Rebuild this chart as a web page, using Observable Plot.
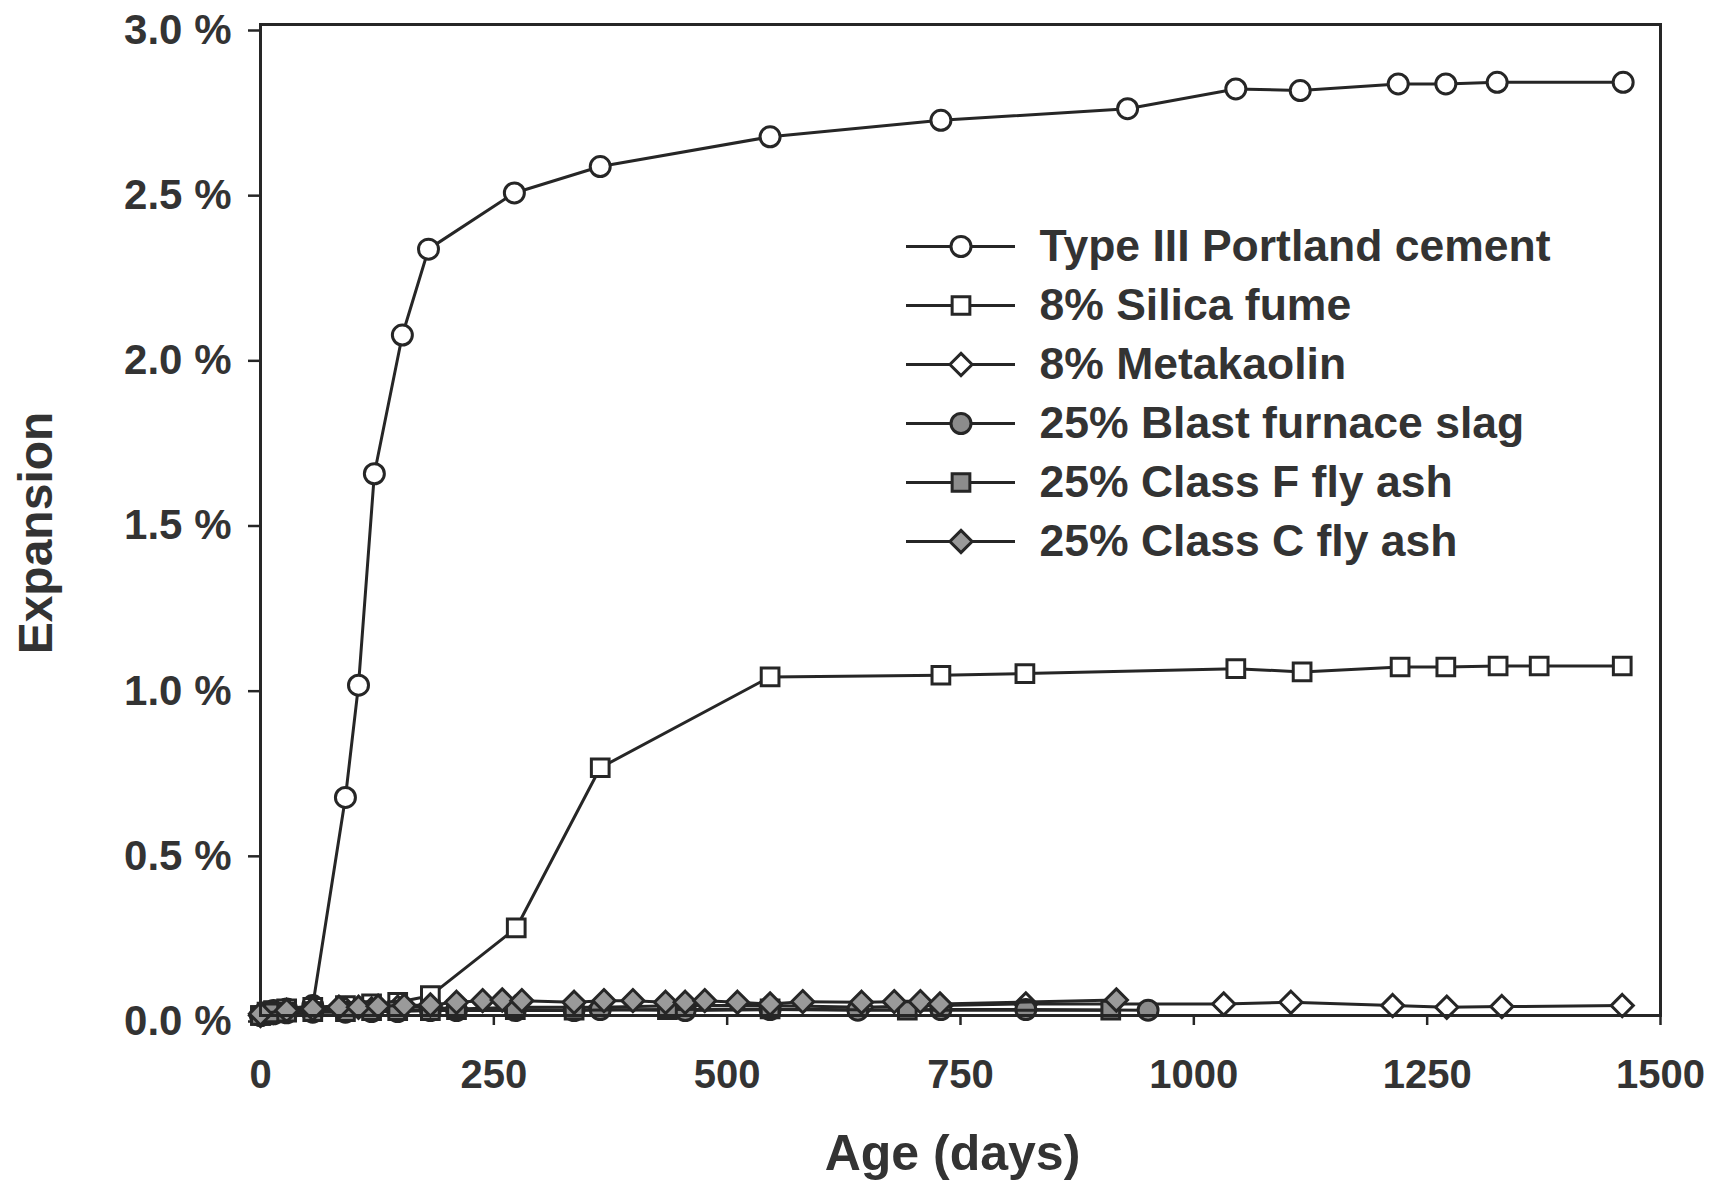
<!DOCTYPE html>
<html>
<head>
<meta charset="utf-8">
<script src="https://cdn.jsdelivr.net/npm/d3@7"></script>
<script src="https://cdn.jsdelivr.net/npm/@observablehq/plot@0.6"></script>
<style>
  html, body { margin: 0; padding: 0; background: #fff; }
  #chart { position: relative; width: 1712px; height: 1181px; }
  #chart > svg, #chart > figure { position: absolute; margin: 0; }
</style>
</head>
<body>
<div id="chart"></div>
<script>
// Expansion (%) of mortar bars versus age (days) for each binder
const seriesNames = [
  "Type III Portland cement",
  "8% Silica fume",
  "8% Metakaolin",
  "25% Blast furnace slag",
  "25% Class F fly ash",
  "25% Class C fly ash"
];

const typeIIIDays = [0, 7, 14, 28, 56, 91, 105, 122, 152, 180, 272, 364, 546, 729, 929, 1045, 1114, 1219, 1270, 1325, 1460];
const typeIIIExp  = [0.0, 0.01, 0.015, 0.02, 0.03, 0.66, 1.0, 1.64, 2.06, 2.32, 2.49, 2.57, 2.66, 2.71, 2.745, 2.805, 2.80, 2.82, 2.82, 2.825, 2.825];

const silicaDays = [0, 7, 14, 28, 56, 91, 119, 147, 182, 274, 364, 546, 729, 819, 1045, 1116, 1221, 1270, 1326, 1370, 1459];
const silicaExp  = [0.0, 0.01, 0.015, 0.02, 0.025, 0.03, 0.035, 0.04, 0.06, 0.265, 0.75, 1.025, 1.03, 1.035, 1.05, 1.04, 1.055, 1.055, 1.058, 1.058, 1.058];

const metakaolinDays = [0, 14, 28, 56, 91, 119, 147, 182, 210, 273, 364, 455, 546, 644, 729, 820, 1032, 1104, 1213, 1271, 1330, 1459];
const metakaolinExp  = [0.0, 0.01, 0.015, 0.02, 0.02, 0.02, 0.025, 0.025, 0.02, 0.025, 0.025, 0.03, 0.03, 0.025, 0.03, 0.035, 0.035, 0.04, 0.03, 0.025, 0.027, 0.03];

const slagDays = [0, 14, 28, 56, 91, 119, 147, 182, 210, 273, 336, 364, 455, 546, 640, 729, 820, 951];
const slagExp  = [0.0, 0.005, 0.008, 0.01, 0.01, 0.012, 0.012, 0.015, 0.015, 0.015, 0.015, 0.018, 0.015, 0.018, 0.016, 0.018, 0.018, 0.016];

const classFDays = [0, 14, 28, 56, 91, 119, 147, 182, 210, 273, 336, 436, 546, 693, 911];
const classFExp  = [0.0, 0.008, 0.01, 0.012, 0.012, 0.015, 0.015, 0.015, 0.018, 0.018, 0.016, 0.018, 0.02, 0.016, 0.016];

const classCDays = [0, 28, 56, 84, 105, 126, 154, 182, 210, 238, 259, 280, 336, 368, 399, 434, 455, 476, 511, 546, 581, 644, 679, 707, 728, 917];
const classCExp  = [0.005, 0.015, 0.02, 0.025, 0.025, 0.028, 0.03, 0.032, 0.04, 0.045, 0.047, 0.045, 0.04, 0.045, 0.045, 0.04, 0.04, 0.045, 0.04, 0.035, 0.042, 0.04, 0.042, 0.042, 0.035, 0.047];

const xTicks = [0, 250, 500, 750, 1000, 1250, 1500];
const yTicks = [0, 0.5, 1.0, 1.5, 2.0, 2.5, 3.0];

// marker look per series
const markerStyle = [
  {symbol: "circle",   fill: "#ffffff"},
  {symbol: "square",   fill: "#ffffff"},
  {symbol: "diamond2", fill: "#ffffff"},
  {symbol: "circle",   fill: "#8c8c8c"},
  {symbol: "square",   fill: "#8c8c8c"},
  {symbol: "diamond2", fill: "#9a9a9a"}
];

const columns = [
  [typeIIIDays, typeIIIExp],
  [silicaDays, silicaExp],
  [metakaolinDays, metakaolinExp],
  [slagDays, slagExp],
  [classFDays, classFExp],
  [classCDays, classCExp]
];

const series = seriesNames.map((name, i) => ({
  name,
  ...markerStyle[i],
  rows: columns[i][0].map((d, j) => ({day: d, exp: columns[i][1][j]}))
}));

const ink = "#262626";
const font = "'Liberation Sans', Arial, Helvetica, sans-serif";
const R = 10;
const SW = 3;

const seriesMarks = series.flatMap(s => [
  Plot.line(s.rows, {x: "day", y: "exp", stroke: ink, strokeWidth: SW}),
  Plot.dot(s.rows, {x: "day", y: "exp", r: R, symbol: s.symbol, fill: s.fill, stroke: ink, strokeWidth: SW})
]);

const chart = Plot.plot({
  width: 1712,
  height: 1181,
  marginLeft: 260,
  marginRight: 52,
  marginTop: 24,
  marginBottom: 166,
  style: {background: "#fff", fontFamily: font, fontWeight: "bold", color: "#333"},
  x: {domain: [0, 1500]},
  y: {domain: [0, 3]},
  marks: [
    Plot.axisX({ticks: xTicks, tickSize: 10, tickPadding: 34, fontSize: 40, label: null, stroke: ink, strokeWidth: 2.5, tickFormat: d => String(d)}),
    Plot.axisY({ticks: yTicks, tickSize: 12, tickPadding: 17, fontSize: 42, label: null, stroke: ink, strokeWidth: 2.5, dy: 6, tickFormat: d => d.toFixed(1) + " %"}),
    Plot.text(["Age (days)"], {frameAnchor: "bottom", dx: -8, dy: 138, lineAnchor: "middle", fontSize: 50, fill: "#333"}),
    Plot.text(["Expansion"], {frameAnchor: "left", dx: -224, dy: 13, rotate: -90, textAnchor: "middle", lineAnchor: "middle", fontSize: 48, fill: "#333"}),
    ...seriesMarks,
    Plot.frame({stroke: ink, strokeWidth: 3})
  ]
});
chart.style.left = "0px";
chart.style.top = "0px";

// key with sample line, marker and name for each series
const keyRows = series.map(s => ({name: s.name, symbol: s.symbol, fill: s.fill}));
const legend = Plot.plot({
  width: 780,
  height: 400,
  margin: 0,
  style: {background: "transparent", fontFamily: font, fontWeight: "bold"},
  x: {domain: [0, 1], range: [26, 135], axis: null},
  y: {type: "point", domain: seriesNames, range: [44.6, 342.6], padding: 0, axis: null},
  marks: [
    Plot.ruleY(keyRows, {y: "name", x1: 0, x2: 1, stroke: ink, strokeWidth: SW}),
    Plot.dot(keyRows, {x: 0.5, y: "name", r: R, symbol: "symbol", fill: "fill", stroke: ink, strokeWidth: SW}),
    Plot.text(keyRows, {x: 1, y: "name", text: "name", dx: 24, textAnchor: "start", lineAnchor: "middle", fontSize: 44.5, fill: "#333"})
  ]
});
legend.style.left = "880px";
legend.style.top = "200px";

const holder = document.getElementById("chart");
holder.appendChild(chart);
holder.appendChild(legend);
</script>
</body>
</html>
